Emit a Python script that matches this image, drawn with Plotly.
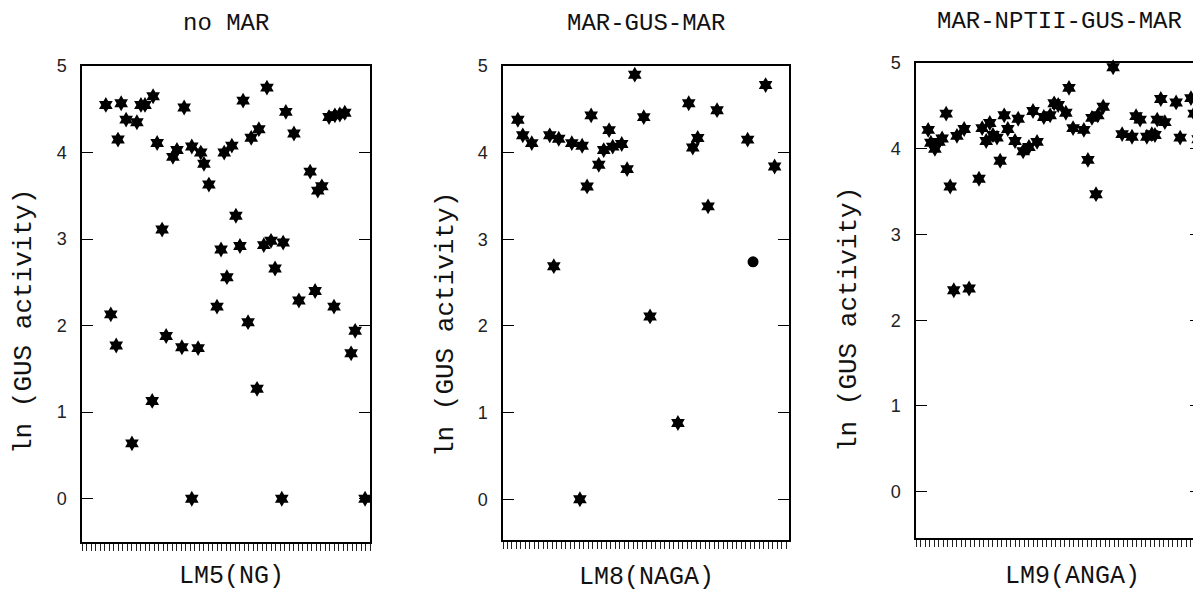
import plotly.graph_objects as go

# ---------------- data (sample position along the x axis, ln(GUS activity)) ----------------
titles = ["no MAR", "MAR-GUS-MAR", "MAR-NPTII-GUS-MAR"]
xlabels = ["LM5(NG)", "LM8(NAGA)", "LM9(ANGA)"]
ytitle = "ln (GUS activity)"
yticks = [0, 1, 2, 3, 4, 5]

p1_x = [5.3, 6.4, 7.6, 8.0, 8.7, 9.8, 11.1, 12.2, 13.1, 14.0, 15.6, 15.8, 16.7, 17.8, 18.7,
        20.2, 21.1, 22.2, 22.7, 24.4, 24.4, 25.8, 26.4, 27.1, 28.2, 30.0, 30.9, 31.6, 32.2,
        33.3, 34.2, 35.1, 35.8, 36.9, 37.6, 38.9, 39.3, 40.4, 41.1, 42.0, 42.9, 44.4, 44.7,
        45.3, 47.1, 48.2, 50.7, 51.8, 52.4, 53.3, 54.9, 56.0, 56.2, 57.3, 58.4, 59.8, 60.7, 62.9]
p1_y = [4.55, 2.13, 1.77, 4.15, 4.57, 4.38, 0.64, 4.35, 4.55, 4.55, 1.13, 4.65, 4.11, 3.11, 1.88,
        3.95, 4.03, 1.75, 4.52, 4.07, 0.00, 1.74, 4.00, 3.87, 3.63, 2.22, 2.88, 4.00, 2.56,
        4.08, 3.27, 2.92, 4.60, 2.04, 4.17, 1.27, 4.27, 2.93, 4.75, 2.98, 2.66, 0.00, 2.96,
        4.47, 4.22, 2.29, 3.78, 2.40, 3.56, 3.61, 4.41, 2.22, 4.43, 4.44, 4.46, 1.68, 1.94, 0.00]

p2_x = [3.3, 4.4, 6.4, 10.4, 11.3, 12.4, 15.3, 17.1, 17.6, 18.7, 19.6, 21.3, 22.4, 23.6, 24.4,
        26.4, 27.6, 29.3, 31.3, 32.7, 38.9, 41.3, 42.2, 43.3, 45.6, 47.6, 54.4, 58.4, 60.4]
p2_y = [4.38, 4.20, 4.11, 4.20, 2.69, 4.16, 4.11, 0.00, 4.08, 3.61, 4.43, 3.86, 4.03, 4.26, 4.07,
        4.10, 3.81, 4.90, 4.41, 2.11, 0.88, 4.57, 4.06, 4.17, 3.38, 4.49, 4.15, 4.78, 3.84]
p2_dot_x = [55.6]
p2_dot_y = [2.74]

p3_x = [2.7, 3.3, 4.2, 5.1, 5.8, 6.7, 7.6, 8.4, 9.1, 10.7, 11.8, 14.0, 14.7, 15.6, 16.4, 17.1,
        18.0, 18.7, 19.6, 20.4, 22.0, 22.7, 23.8, 25.1, 26.0, 26.9, 28.4, 29.8, 30.7, 31.6,
        33.3, 34.0, 34.9, 37.3, 38.2, 39.1, 40.0, 40.4, 41.6, 43.8, 45.8, 48.0, 48.9, 49.8,
        51.3, 52.4, 53.1, 53.6, 54.4, 55.3, 57.8, 58.7, 61.1, 61.8, 62.7]
p3_y = [4.22, 4.07, 4.00, 4.08, 4.12, 4.41, 3.56, 2.35, 4.15, 4.23, 2.37, 3.65, 4.24, 4.09, 4.30, 4.16,
        4.13, 3.86, 4.39, 4.23, 4.09, 4.35, 3.97, 4.02, 4.44, 4.08, 4.37, 4.39, 4.53, 4.51,
        4.42, 4.71, 4.24, 4.22, 3.87, 4.36, 3.47, 4.39, 4.49, 4.95, 4.17, 4.14, 4.38, 4.34,
        4.14, 4.17, 4.16, 4.34, 4.58, 4.31, 4.54, 4.13, 4.59, 4.41, 4.11]

# ---------------- layout geometry ----------------
OFF = 8                       # default page body margin
W, H = 1201 - OFF, 592 - OFF  # figure fills the rest of the window


def px(x):
    return (x - OFF) / W


def py(y):
    return 1 - (y - OFF) / H


xdoms = [[px(82), px(370)], [px(503), px(789)], [px(916), 1.0]]
ydoms = [[py(542), py(66)], [py(540), py(66)], [py(538), py(63)]]
xranges = [[0, 64], [0, 63.6], [0, 63.33]]
yranges = [[-0.5, 5], [-0.47, 5], [-0.54, 5]]
title_pos = [(226, 23), (646, 23), (1059, 22)]
xlab_pos = [(231, 576), (646, 577), (1072, 576)]
ytitle_pos = [(24, 322), (446, 325), (849, 320)]

MONO = "Liberation Mono, Courier New, monospace"
SANS = "Liberation Sans, Arial, sans-serif"

star = dict(symbol="hexagram", size=12, color="black", line=dict(width=0))

fig = go.Figure()
series = [(p1_x, p1_y), (p2_x, p2_y), (p3_x, p3_y)]
for i, (xs, ys) in enumerate(series):
    sfx = "" if i == 0 else str(i + 1)
    fig.add_trace(go.Scatter(x=xs, y=ys, mode="markers", marker=star, cliponaxis=False,
                             xaxis="x" + sfx, yaxis="y" + sfx, showlegend=False))
fig.add_trace(go.Scatter(x=p2_dot_x, y=p2_dot_y, mode="markers", cliponaxis=False,
                         marker=dict(symbol="circle", size=11, color="black"),
                         xaxis="x2", yaxis="y2", showlegend=False))

lay = dict(width=W, height=H, margin=dict(l=0, r=0, t=0, b=0, autoexpand=False),
           paper_bgcolor="white", plot_bgcolor="white", showlegend=False)
for i in range(3):
    sfx = "" if i == 0 else str(i + 1)
    lay["xaxis" + sfx] = dict(domain=xdoms[i], range=xranges[i], anchor="y" + sfx,
                             automargin=False,
                             showline=True, linecolor="black", linewidth=1.5, mirror=True,
                             ticks="outside", ticklen=7, tickwidth=1, tickcolor="#222",
                             tick0=0, dtick=1, showticklabels=False, showgrid=False,
                             zeroline=False, fixedrange=True)
    lay["yaxis" + sfx] = dict(domain=ydoms[i], range=yranges[i], anchor="x" + sfx,
                             automargin=False,
                             showline=True, linecolor="black", linewidth=1.5, mirror="ticks",
                             ticks="inside", ticklen=11, tickwidth=1.2, tickcolor="black",
                             tickvals=yticks, ticktext=[str(v) for v in yticks],
                             ticklabelstandoff=10,
                             tickfont=dict(family=SANS, size=18, color="#222"),
                             showgrid=False, zeroline=False, fixedrange=True)
fig.update_layout(**lay)

ann = []
for i in range(3):
    ann.append(dict(text=titles[i], x=px(title_pos[i][0]), y=py(title_pos[i][1]),
                    xref="paper", yref="paper", showarrow=False, xanchor="center", yanchor="middle",
                    borderpad=0, font=dict(family=MONO, size=24, color="#111")))
    ann.append(dict(text=xlabels[i], x=px(xlab_pos[i][0]), y=py(xlab_pos[i][1]),
                    xref="paper", yref="paper", showarrow=False, xanchor="center", yanchor="middle",
                    borderpad=0, font=dict(family=MONO, size=25, color="#111")))
    ann.append(dict(text=ytitle, x=px(ytitle_pos[i][0]), y=py(ytitle_pos[i][1]),
                    xref="paper", yref="paper", showarrow=False, xanchor="center", yanchor="middle",
                    textangle=-90, font=dict(family=MONO, size=26, color="#111")))
fig.update_layout(annotations=ann)

fig.write_html("out.html")
